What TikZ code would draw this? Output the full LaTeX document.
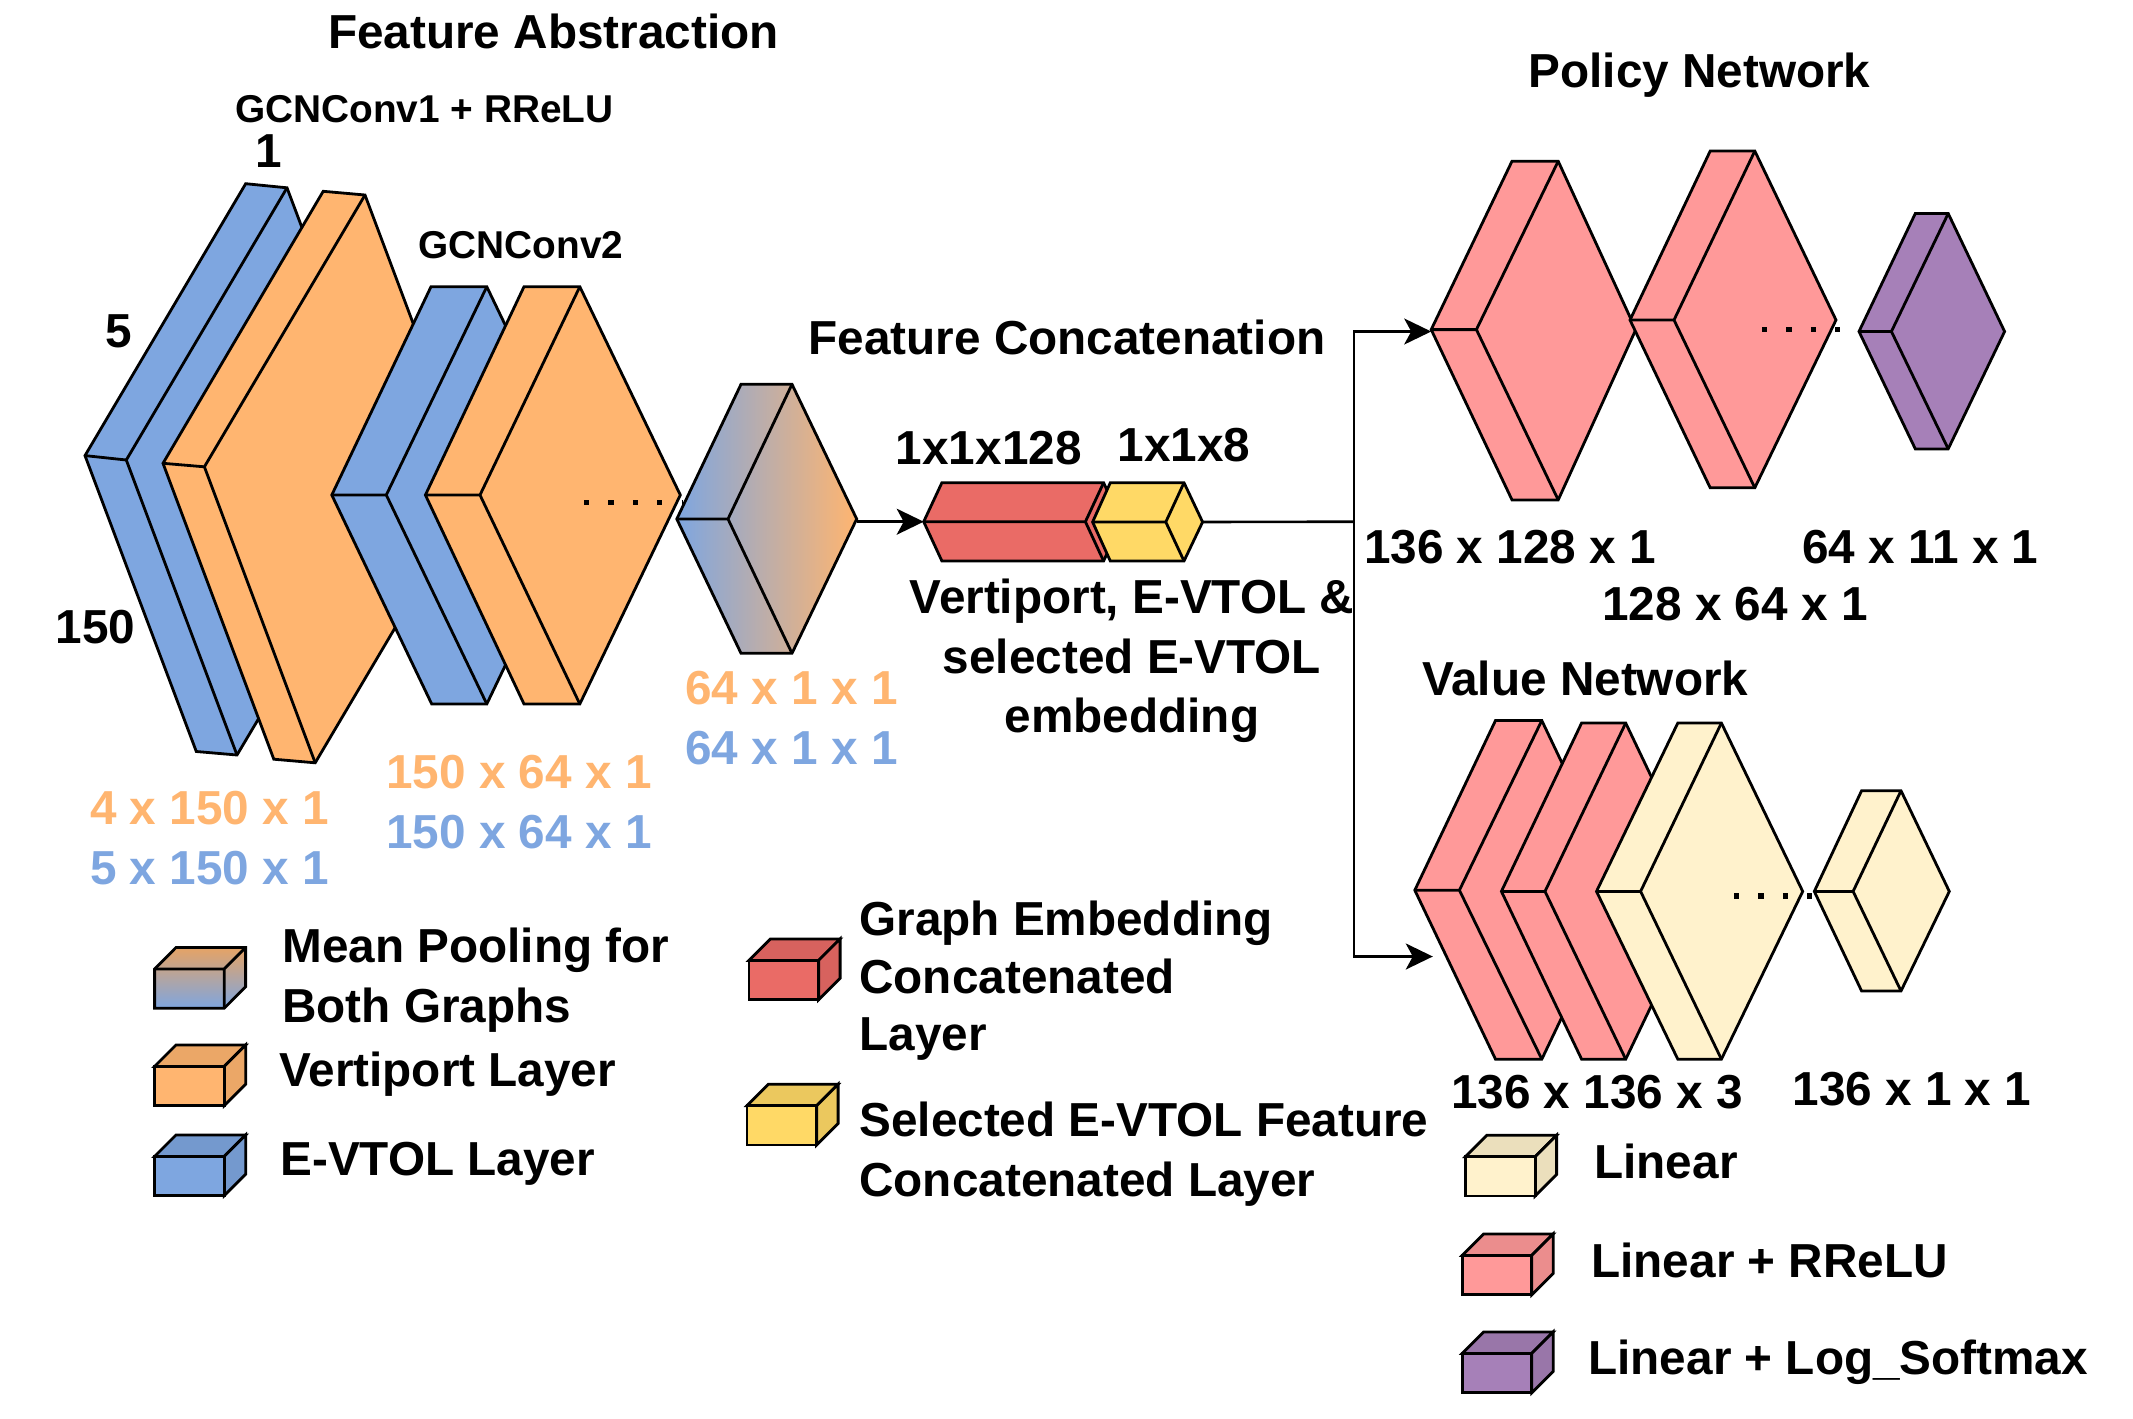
\documentclass[tikz,border=0pt]{standalone}
\usepackage{fontspec}
\setmainfont{Liberation Sans}
\usepackage{xcolor}
\usetikzlibrary{arrows.meta, positioning}

\definecolor{evtolblue}{HTML}{7EA6E0}
\definecolor{vertorange}{HTML}{FFB570}
\definecolor{linpink}{HTML}{FF9999}
\definecolor{embedred}{HTML}{EA6B66}
\definecolor{selyellow}{HTML}{FFD966}
\definecolor{lincream}{HTML}{FFF2CC}
\definecolor{softpurple}{HTML}{A680B8}

% name, fill, left tip, inner corner, top left, top right, right tip, bottom right, bottom left
\newcommand{\layerbox}[9]{
  \coordinate (#1L) at #3;
  \coordinate (#1R) at #7;
  \filldraw[layer, #2] #3 -- #5 -- #6 -- #7 -- #8 -- #9 -- cycle;
  \draw[layer] #3 -- #4 -- #6 #4 -- #8;
}
% colour, lower left corner of the front face
\newcommand{\legendcube}[3]{
  \filldraw[cube, fill=#1!92!black] (#2,#3-39.3) -- ++(21.5,-21.5) -- ++(69.6,0) -- ++(-21.5,21.5) -- cycle;
  \filldraw[cube, fill=#1!92!black] (#2+69.6,#3) -- ++(21.5,-21.5) -- ++(0,-39.3) -- ++(-21.5,21.5) -- cycle;
  \filldraw[cube, fill=#1] (#2,#3) rectangle (#2+69.6,#3-39.3);
}

\begin{document}
\begin{tikzpicture}[
  x=0.5pt, y=-0.5pt,
  layer/.style={draw=black, line width=1.4pt, line join=miter},
  cube/.style={draw=black, line width=1.4pt, line join=miter},
  arrow/.style={-{Stealth[length=13.5pt, width=13pt, inset=3.5pt]}, line width=1.3pt, black},
  dotrow/.style={line width=2.6pt, dash pattern=on 2.6pt off 9.6pt},
  big/.style={font=\fontsize{23.85}{29.7}\selectfont\bfseries, inner sep=0pt, align=center},
  small/.style={font=\fontsize{19.4}{24}\selectfont\bfseries, inner sep=0pt},
  legend/.style={font=\fontsize{23.85}{30}\selectfont\bfseries, inner sep=0pt, align=left, anchor=west}
]
\useasboundingbox (0,0) rectangle (2133,1419);

\layerbox{blueA}{fill=evtolblue}{(85,455.6)}{(126.3,460)}{(245.7,183.7)}{(287,187.8)}{(398.3,483.7)}{(237,755)}{(196.3,751.5)}
\layerbox{orangeA}{fill=vertorange}{(163,463.3)}{(204.4,466.8)}{(323.2,191.3)}{(365,195)}{(476,491)}{(315.2,762.8)}{(273.8,759.2)}
\layerbox{blueB}{fill=evtolblue}{(331.8,495)}{(386.3,495)}{(431,286.7)}{(486.8,286.7)}{(587,495)}{(486.8,704)}{(431.7,704)}
\layerbox{orangeB}{fill=vertorange}{(425.4,495)}{(480,495)}{(524,286.7)}{(579.8,286.7)}{(680.3,495)}{(579.8,704)}{(524,704)}
\draw[dotrow] (584,502.5) -- (683,502.5);
\layerbox{mean}{left color=evtolblue, right color=vertorange}{(676.8,519)}{(728,519)}{(741,384.3)}{(792,384.3)}{(856.7,519)}{(792,653.3)}{(741,653.3)}

\layerbox{embed}{fill=embedred}{(923.7,521.7)}{(1085.4,521.7)}{(941.9,482.7)}{(1103.6,482.7)}{(1121.6,521.7)}{(1103.6,561)}{(941.9,561)}
\layerbox{sel}{fill=selyellow}{(1092.6,522)}{(1165.8,522)}{(1110.3,482.7)}{(1184,482.7)}{(1202.6,522)}{(1184,561)}{(1110.3,561)}

\layerbox{polA}{fill=linpink}{(1431.2,329.6)}{(1476.4,329.6)}{(1512,161.2)}{(1558.2,161.2)}{(1635.8,329.6)}{(1558.2,499.9)}{(1512,499.9)}
\layerbox{polB}{fill=linpink}{(1630,320)}{(1674,320)}{(1710.2,151)}{(1754.8,151)}{(1836,320)}{(1754.8,487.8)}{(1710.2,487.8)}
\layerbox{polC}{fill=softpurple}{(1859,331.5)}{(1891.4,331.5)}{(1915.3,213.5)}{(1948.2,213.5)}{(2004.6,331.5)}{(1948.2,448.9)}{(1915.3,448.9)}
\draw[dotrow] (1762,329.6) -- (1861,329.6);

\layerbox{valA}{fill=linpink}{(1414.8,890.2)}{(1459.4,890.2)}{(1495.5,720.5)}{(1541.8,720.5)}{(1622.5,890.2)}{(1541.8,1059.2)}{(1495.5,1059.2)}
\layerbox{valB}{fill=linpink}{(1501.4,891.4)}{(1545,891.4)}{(1581.6,723)}{(1625.7,723)}{(1706,891.4)}{(1625.7,1059.2)}{(1581.6,1059.2)}
\layerbox{valC}{fill=lincream}{(1596.5,891.4)}{(1640.6,891.4)}{(1677.8,723)}{(1721.4,723)}{(1802.7,891.4)}{(1721.4,1059.2)}{(1677.8,1059.2)}
\layerbox{valD}{fill=lincream}{(1814.3,891.4)}{(1853.1,891.4)}{(1861.6,790.7)}{(1901,790.7)}{(1949.3,891.4)}{(1901,991)}{(1861.6,991)}
\draw[dotrow] (1734,896) -- (1812,896);

\coordinate (branch) at (1354,521.7);
\coordinate (meanOut) at (856.7,521.7);
\coordinate (polIn) at (1431.2,331.5);
\coordinate (valIn) at (1432.8,956.5);
\draw[arrow] (meanOut) -- (embedL);
\draw[line width=1.3pt] (selR) -- (branch);
\draw[arrow] (branch) |- (polIn);
\draw[arrow] (branch) |- (valIn);

\node[big] (abstract) at (553.5,31) {Feature Abstraction};
\node[small] (convA) at (424.5,109.5) {GCNConv1 + RReLU};
\node[big] (dimOne) at (269,151.5) {1};
\node[small] (convB) at (521,245) {GCNConv2};
\node[big] (dimFive) at (119,331.6) {5};
\node[big] (dimLen) at (95.5,627.5) {150};
\node[big] (concat) at (1067,337) {Feature Concatenation};
\node[big] (sizeEmbed) at (988.8,447.7) {1x1x128};
\node[big] (sizeSel) at (1184,445) {1x1x8};
\node[big] (embedText) at (1132,661) {Vertiport, E-VTOL \&\\selected E-VTOL\\embedding};
\node[big, text=vertorange] (meanO) at (791.5,688.3) {64 x 1 x 1};
\node[big, text=evtolblue] (meanB) at (791.5,748.4) {64 x 1 x 1};
\node[big, text=vertorange] (convBO) at (519,772) {150 x 64 x 1};
\node[big, text=evtolblue] (convBB) at (519,832) {150 x 64 x 1};
\node[big, text=vertorange] (convAO) at (209.5,808) {4 x 150 x 1};
\node[big, text=evtolblue] (convAB) at (209.5,867.7) {5 x 150 x 1};
\node[big] (policy) at (1699.5,74.7) {Policy Network};
\node[big] (sizeP1) at (1510,547) {136 x 128 x 1};
\node[big] (sizeP3) at (1920.5,547) {64 x 11 x 1};
\node[big] (sizeP2) at (1735,604) {128 x 64 x 1};
\node[big] (value) at (1585.3,678.4) {Value Network};
\node[big] (sizeV1) at (1597,1092.5) {136 x 136 x 3};
\node[big] (sizeV2) at (1912,1089.5) {136 x 1 x 1};

\filldraw[cube, top color=vertorange!90!black, bottom color=evtolblue] (154.6,1008.3) -- (154.6,969) -- (176,947.5) -- (245.6,947.5) -- (245.6,986.8) -- (224.2,1008.3) -- cycle;
\draw[cube] (154.6,969) -- (224.2,969) -- (245.6,947.5) (224.2,969) -- (224.2,1008.3);
\legendcube{vertorange}{154.6}{1105.7}
\legendcube{evtolblue}{154.6}{1195.7}
\legendcube{embedred}{749}{999.7}
\legendcube{selyellow}{747}{1145}
\legendcube{lincream}{1465.5}{1196}
\legendcube{linpink}{1462.2}{1294.7}
\legendcube{softpurple}{1462.2}{1392.7}

\node[legend] (legMean) at (282,980) {Mean Pooling for\\Both Graphs};
\node[legend] (legVert) at (279,1074) {Vertiport Layer};
\node[legend] (legEvtol) at (280,1164) {E-VTOL Layer};
\node[legend, font=\fontsize{23.85}{28.7}\selectfont\bfseries] (legEmbed) at (859,981) {Graph Embedding\\Concatenated\\Layer};
\node[legend] (legSel) at (859,1154) {Selected E-VTOL Feature\\Concatenated Layer};
\node[legend] (legLin) at (1594,1161.7) {Linear};
\node[legend] (legRelu) at (1591,1260.7) {Linear + RReLU};
\node[legend] (legSoft) at (1588,1362) {Linear + Log\_Softmax};

\end{tikzpicture}
\end{document}
